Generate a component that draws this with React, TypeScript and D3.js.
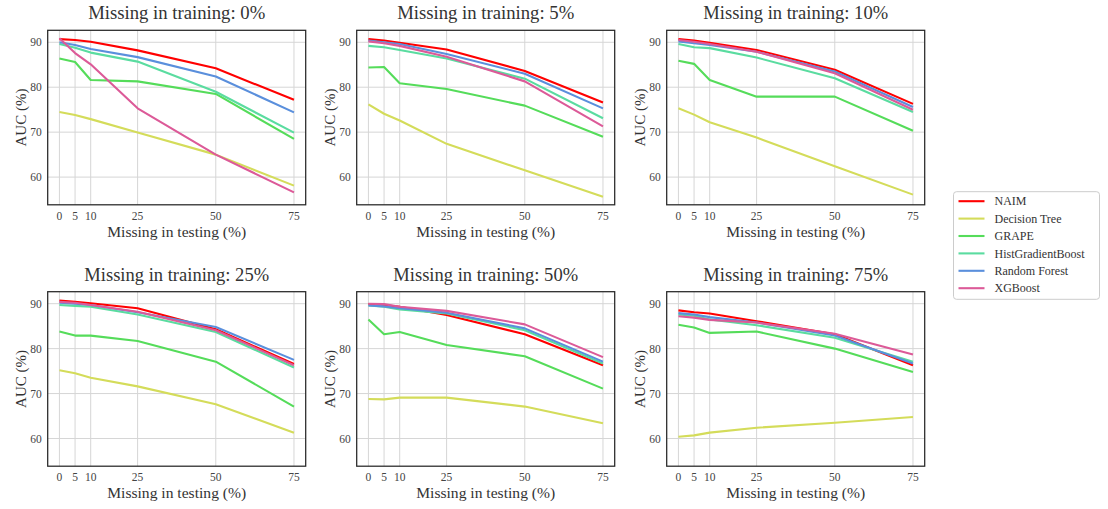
import React from "react";
import * as d3 from "d3";

// missing rate in the test set (x axis)
const testMissing = [0, 5, 10, 25, 50, 75];
const trainMissing = ["0%", "5%", "10%", "25%", "50%", "75%"];

const models = ["NAIM", "Decision Tree", "GRAPE", "HistGradientBoost", "Random Forest", "XGBoost"];
const colors = ["#ff0000", "#d4dc5a", "#55dc5a", "#5adca0", "#5a8fdc", "#dc5a98"];

// AUC (%) per training missing rate, one row per model (same order as `models`)
const auc0 = [
  [90.7, 90.5, 90.1, 88.2, 84.2, 77.2],
  [74.5, 73.8, 72.9, 69.9, 65.0, 58.1],
  [86.4, 85.6, 81.6, 81.3, 78.5, 68.5],
  [89.6, 88.8, 87.7, 85.7, 79.0, 69.9],
  [90.0, 89.4, 88.5, 86.7, 82.4, 74.4],
  [90.9, 87.6, 85.1, 75.3, 65.0, 56.6],
];
const auc5 = [
  [90.7, 90.4, 89.9, 88.4, 83.6, 76.6],
  [76.2, 74.1, 72.6, 67.4, 61.5, 55.6],
  [84.4, 84.5, 80.9, 79.6, 75.9, 69.0],
  [89.2, 88.9, 88.3, 86.4, 81.9, 73.1],
  [90.4, 90.0, 89.6, 87.4, 83.0, 75.3],
  [90.2, 89.8, 89.2, 86.8, 81.3, 71.3],
];
const auc10 = [
  [90.7, 90.4, 89.9, 88.3, 83.9, 76.3],
  [75.3, 73.9, 72.2, 68.8, 62.4, 56.1],
  [85.9, 85.2, 81.6, 77.9, 77.9, 70.3],
  [89.6, 88.9, 88.7, 86.6, 82.0, 74.5],
  [90.2, 89.8, 89.4, 87.9, 83.5, 75.6],
  [90.5, 90.1, 89.6, 87.9, 83.1, 75.0],
];
const auc25 = [
  [90.7, 90.4, 90.1, 89.0, 84.3, 76.6],
  [75.2, 74.5, 73.5, 71.6, 67.6, 61.3],
  [83.8, 82.9, 82.9, 81.7, 77.1, 67.1],
  [89.7, 89.5, 89.3, 87.6, 83.7, 75.8],
  [90.2, 90.0, 89.7, 88.1, 84.8, 77.5],
  [90.4, 90.2, 89.7, 88.2, 84.1, 76.3],
];
const auc50 = [
  [89.9, 89.7, 89.3, 87.5, 83.2, 76.3],
  [68.8, 68.7, 69.1, 69.1, 67.1, 63.4],
  [86.5, 83.2, 83.7, 80.8, 78.3, 71.1],
  [89.6, 89.3, 88.7, 87.8, 84.1, 76.7],
  [89.6, 89.4, 89.0, 88.0, 84.5, 77.1],
  [90.0, 89.9, 89.3, 88.4, 85.4, 78.1],
];
const auc75 = [
  [88.5, 88.1, 87.8, 86.1, 83.2, 76.3],
  [60.4, 60.7, 61.3, 62.4, 63.5, 64.8],
  [85.3, 84.7, 83.5, 83.8, 80.0, 74.8],
  [87.6, 87.3, 86.5, 85.2, 82.4, 77.1],
  [87.9, 87.6, 87.0, 85.8, 82.9, 76.7],
  [87.2, 86.9, 86.4, 85.8, 83.3, 78.7],
];
const panelsData = [auc0, auc5, auc10, auc25, auc50, auc75];

const yTicks = [60, 70, 80, 90];

const font = "'Liberation Serif', 'DejaVu Serif', serif";

export default function App() {
  const W = 1108;
  const H = 509;
  const pw = 258;
  const ph = 174.5;
  const lefts = [47.7, 356.7, 666.7];
  const tops = [30.3, 291.7];

  // shared y with matplotlib-like 5% margins
  const all = panelsData.flat(2);
  const [ymin, ymax] = d3.extent(all) as [number, number];
  const ypad = (ymax - ymin) * 0.05;
  const xpad = 75 * 0.05;

  const x = d3.scaleLinear().domain([0 - xpad, 75 + xpad]).range([0, pw]);
  const y = d3.scaleLinear().domain([ymin - ypad, ymax + ypad]).range([ph, 0]);

  const line = d3.line<number>()
    .x((d, i) => x(testMissing[i]))
    .y(d => y(d));

  return (
    <svg width={W} height={H} style={{ position: "absolute", left: 0, top: 0, background: "#fff" }} fontFamily={font}>
      {panelsData.map((rows, p) => {
        const px = lefts[p % 3];
        const py = tops[Math.floor(p / 3)];
        const title = `Missing in training: ${trainMissing[p]}`;
        return (
          <g key={p} transform={`translate(${px},${py})`}>
            {/* grid */}
            {testMissing.map(t => (
              <line key={"gx" + t} x1={x(t)} x2={x(t)} y1={0} y2={ph} stroke="#d6d6d6" strokeWidth={1} />
            ))}
            {yTicks.map(t => (
              <line key={"gy" + t} x1={0} x2={pw} y1={y(t)} y2={y(t)} stroke="#d6d6d6" strokeWidth={1} />
            ))}
            {/* series */}
            {rows.map((vals, i) => (
              <path key={models[i]} d={line(vals) || ""} fill="none" stroke={colors[i]} strokeWidth={2.1} strokeLinejoin="round" />
            ))}
            {/* frame */}
            <rect x={0} y={0} width={pw} height={ph} fill="none" stroke="#262626" strokeWidth={1.25} />
            {/* tick labels */}
            {testMissing.map(t => (
              <text key={"xt" + t} x={x(t)} y={ph + 15} textAnchor="middle" fontSize={11.5} fill="#444">{t}</text>
            ))}
            {yTicks.map(t => (
              <text key={"yt" + t} x={-6} y={y(t)} dy="0.35em" textAnchor="end" fontSize={11.5} fill="#444">{t}</text>
            ))}
            {/* labels */}
            <text x={pw / 2} y={ph + 32} textAnchor="middle" fontSize={15} fill="#333"
              textLength={139} lengthAdjust="spacingAndGlyphs">Missing in testing (%)</text>
            <text transform={`translate(${-22},${ph / 2}) rotate(-90)`} textAnchor="middle" fontSize={15} fill="#333"
              textLength={58} lengthAdjust="spacingAndGlyphs">AUC (%)</text>
            <text x={pw / 2} y={-11} textAnchor="middle" fontSize={18} fill="#333"
              textLength={title.length * 7.7} lengthAdjust="spacingAndGlyphs">{title}</text>
          </g>
        );
      })}
      {/* legend */}
      <g transform="translate(953.5,191.7)">
        <rect x={0} y={0} width={146} height={107.6} rx={3} fill="#fff" stroke="#cccccc" strokeWidth={1} />
        {models.map((m, i) => (
          <g key={m} transform={`translate(0,${9.5 + i * 17.4})`}>
            <line x1={5} x2={31} y1={0} y2={0} stroke={colors[i]} strokeWidth={2.1} />
            <text x={41} y={0} dy="0.35em" fontSize={12} fill="#333">{m}</text>
          </g>
        ))}
      </g>
    </svg>
  );
}
